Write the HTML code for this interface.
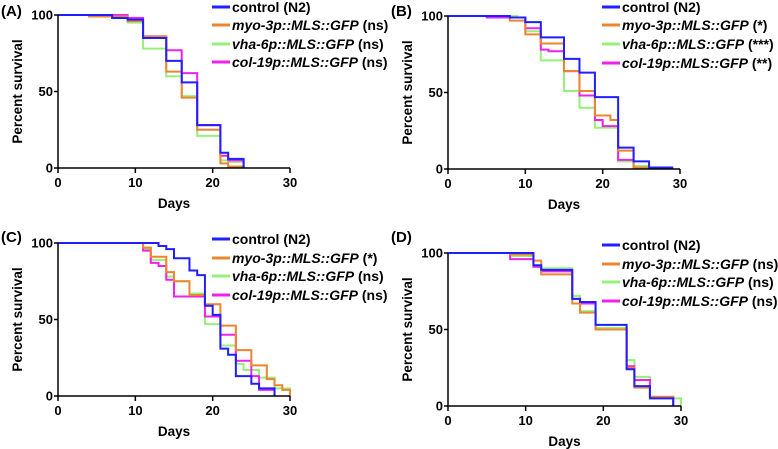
<!DOCTYPE html>
<html><head><meta charset="utf-8"><style>
body{margin:0;background:#fff}
svg{display:block;font-family:"Liberation Sans",Arial,sans-serif;font-weight:bold}
</style></head><body>
<svg id="chart" width="778" height="449" viewBox="0 0 778 449" xmlns="http://www.w3.org/2000/svg"></svg>
<script>
const xTicks=[0,10,20,30];
const yTicks=[0,50,100];
const panelLabels=["(A)","(B)","(C)","(D)"];
const seriesNames=["control (N2)","myo-3p::MLS::GFP","vha-6p::MLS::GFP","col-19p::MLS::GFP"];
const sigA=["ns","ns","ns"], sigB=["*","***","**"], sigC=["*","ns","ns"], sigD=["ns","ns","ns"];
const A_control=[[0,100],[7,98],[9,97],[11,85],[14,70],[16,56],[18,28],[21,10],[22,6],[24,0]];
const A_myo=[[0,100],[4,99],[9,96],[11,86],[14,63],[16,46],[18,25],[21,3],[22,1],[24,0]];
const A_vha=[[0,100],[9,95],[11,78],[14,60],[16,47],[18,21],[21,5],[22,4],[24,0]];
const A_col=[[0,100],[9,98],[11,86],[14,77],[16,62],[18,28],[21,8],[22,5],[24,0]];
const B_control=[[0,100],[8,99],[10,96],[12,86],[15,72],[17,63],[19,47],[22,14],[24,5],[26,1],[29,0]];
const B_myo=[[0,100],[8,97],[10,88],[12,82],[15,64],[17,51],[19,35],[21,32],[22,12],[24,1],[26,0]];
const B_vha=[[0,100],[9,99],[10,90],[12,71],[15,51],[17,40],[19,27],[22,5],[24,2],[26,1],[28,0]];
const B_col=[[0,100],[5,99],[10,92],[12,78],[13,77],[15,64],[17,48],[19,32],[20,28],[22,6],[24,1],[26,0]];
const C_control=[[0,100],[13,98],[14,96],[15,90],[17,82],[18,79],[19,59],[20,53],[21,31],[22,27],[23,13],[25,8],[26,5],[28,0]];
const C_myo=[[0,100],[11,97],[12,91],[14,81],[15,75],[17,66],[19,60],[21,46],[23,30],[25,20],[27,11],[28,7],[29,4],[30,0]];
const C_vha=[[0,100],[11,96],[12,89],[14,78],[15,75],[17,67],[19,47],[21,33],[23,21],[24,17],[26,12],[28,5],[30,0]];
const C_col=[[0,100],[11,95],[12,87],[13,85],[14,76],[15,65],[17,65],[19,52],[21,40],[23,23],[25,13],[26,4],[28,0]];
const D_control=[[0,100],[11,92],[12,89],[16,70],[17,68],[19,53],[23,24],[24,13],[26,5],[29,0]];
const D_myo=[[0,100],[8,99],[11,95],[12,86],[16,67],[17,61],[19,50],[23,25],[24,12],[26,6],[29,0]];
const D_vha=[[0,100],[8,98],[11,91],[12,90],[16,72],[17,62],[19,51],[23,30],[24,19],[26,5],[30,0]];
const D_col=[[0,100],[8,96],[11,91],[12,88],[16,70],[17,67],[19,50],[23,26],[24,17],[26,6],[29,0]];

const colors=["#1f1fff","#ec8430","#97f07a","#ee22ee"];
const keys=["control","myo","vha","col"];
const NS="http://www.w3.org/2000/svg";
const svg=document.getElementById('chart');
function mk(tag,attrs,parent,txt){const e=document.createElementNS(NS,tag);for(const k in attrs)e.setAttribute(k,attrs[k]);if(txt!==undefined)e.textContent=txt;(parent||svg).appendChild(e);return e;}

const panels=[
 {x0:58,x1:290,y100:15,y0:168,ox:0,oy:0,data:[A_control,A_myo,A_vha,A_col],sig:sigA,legY:[7,25,44,62],legX:212,labY:10},
 {x0:448,x1:680,y100:16,y0:169,ox:390,oy:0,data:[B_control,B_myo,B_vha,B_col],sig:sigB,legY:[7,25,44,63],legX:602,labY:10},
 {x0:58,x1:290,y100:243,y0:396,ox:0,oy:225,data:[C_control,C_myo,C_vha,C_col],sig:sigC,legY:[239,258,276,295],legX:212,labY:236},
 {x0:448,x1:681,y100:253,y0:406,ox:390,oy:225,data:[D_control,D_myo,D_vha,D_col],sig:sigD,legY:[245,264,282,301],legX:602,labY:236}
];
panels.forEach((p,pi)=>{
 const g=mk('g',{});
 
 
 const sx=d=>p.x0+(d-xTicks[0])/(xTicks[xTicks.length-1]-xTicks[0])*(p.x1-p.x0);
 const sy=v=>p.y0-(v/100)*(p.y0-p.y100);
 const lab=mk('text',{x:p.ox+1,y:p.labY+6,'font-size':15,fill:'#000'},g,panelLabels[pi]);
 
 
 [2,3,1,0].forEach(si=>{
  const pts=p.data[si];let d='M'+sx(pts[0][0])+','+sy(pts[0][1]);
  for(let i=1;i<pts.length;i++){d+=' H'+sx(pts[i][0])+' V'+sy(pts[i][1]);}
  const path=mk('path',{d:d,fill:'none',stroke:colors[si],'stroke-width':2},g);
  
  
 });
 const ax=mk('path',{d:`M${p.x0},${p.y100} V${p.y0+1} M${p.x0-1},${p.y0} H${p.x1}`,stroke:'#000','stroke-width':1.5,fill:'none'},g);
 
 
 xTicks.forEach(t=>{
  const tk=mk('line',{x1:sx(t),x2:sx(t),y1:p.y0,y2:p.y0+5,stroke:'#000','stroke-width':1.5},g);
  
  
  const tl=mk('text',{x:sx(t),y:p.y0+19,'font-size':13,'text-anchor':'middle'},g,t);
  
  
 });
 yTicks.forEach(t=>{
  const tk=mk('line',{x1:p.x0-4,x2:p.x0,y1:sy(t),y2:sy(t),stroke:'#000','stroke-width':1.5},g);
  
  
  const tl=mk('text',{x:p.x0-5,y:sy(t)+4.5,'font-size':13,'text-anchor':'end'},g,t);
  
  
 });
 const xt=mk('text',{x:(p.x0+p.x1)/2,y:p.y0+40,'font-size':13.5,'text-anchor':'middle'},g,'Days');
 
 
 const cy=(p.y0+p.y100)/2;
 const yt=mk('text',{x:0,y:0,'font-size':13.5,'text-anchor':'middle',transform:`translate(${p.ox+22},${cy}) rotate(-90)`},g,'Percent survival');
 
 
 seriesNames.forEach((n,si)=>{
  const y=p.legY[si];
  const le=mk('g',{},g);
  
  
  mk('line',{x1:p.legX,x2:p.legX+18,y1:y,y2:y,stroke:colors[si],'stroke-width':3},le);
  const t=mk('text',{x:p.legX+20,y:y+5,'font-size':14},le);
  if(si===0){t.textContent=n;}
  else{mk('tspan',{'font-style':'italic'},t,n);mk('tspan',{},t,' ('+p.sig[si-1]+')');}
 });
});
</script>
</body></html>
